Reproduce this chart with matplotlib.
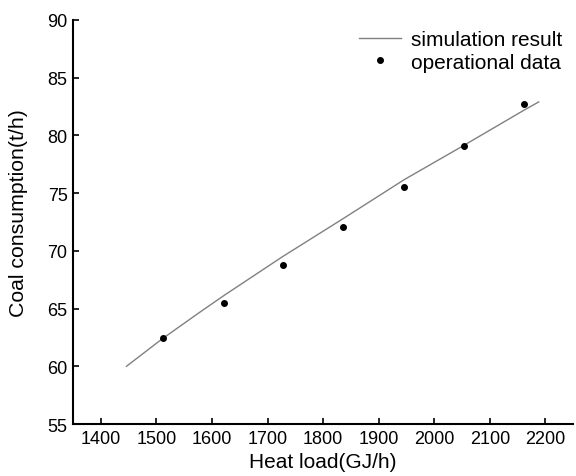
import numpy as np
import matplotlib
matplotlib.use("Agg")
import matplotlib.pyplot as plt

# simulation curve
sim_load = [1446, 1511, 1577, 1622, 1727, 1835, 1946, 2052, 2161, 2188]
sim_coal = [60.0, 62.4, 64.65, 66.15, 69.5, 72.76, 76.17, 79.1, 82.17, 82.9]

# operational data points
op_load = [1512, 1622, 1728, 1835, 1946, 2053, 2161]
op_coal = [62.45, 65.5, 68.8, 72.07, 75.5, 79.1, 82.7]

x_ticks = [1400, 1500, 1600, 1700, 1800, 1900, 2000, 2100, 2200]
y_ticks = [55, 60, 65, 70, 75, 80, 85, 90]

plt.rcParams['font.family'] = ['Liberation Sans', 'DejaVu Sans']

fig = plt.figure(figsize=(5.76, 4.77), dpi=100)
ax = fig.add_axes([0.127, 0.109, 0.868, 0.847])

ax.plot(sim_load, sim_coal, color='#808080', lw=1.0, label='simulation result')
ax.plot(op_load, op_coal, 'o', color='black', ms=4, ls='none', label='operational data')

ax.set_xlim(1350, 2250)
ax.set_ylim(55, 90)
ax.set_xticks(x_ticks)
ax.set_yticks(y_ticks)
ax.tick_params(direction='in', length=4, width=1.2, labelsize=13, pad=4)
for s in ['top', 'right']:
    ax.spines[s].set_visible(False)
for s in ['left', 'bottom']:
    ax.spines[s].set_linewidth(1.5)

ax.set_xlabel('Heat load(GJ/h)', fontsize=15, labelpad=4)
ax.set_ylabel('Coal consumption(t/h)', fontsize=15.3)
ax.yaxis.set_label_coords(-0.09, 0.525)

ax.legend(loc='upper right', frameon=False, fontsize=15, handlelength=2.0,
          borderaxespad=0.1, labelspacing=0.15, handletextpad=0.5)

fig.savefig('out.png', dpi=100)
